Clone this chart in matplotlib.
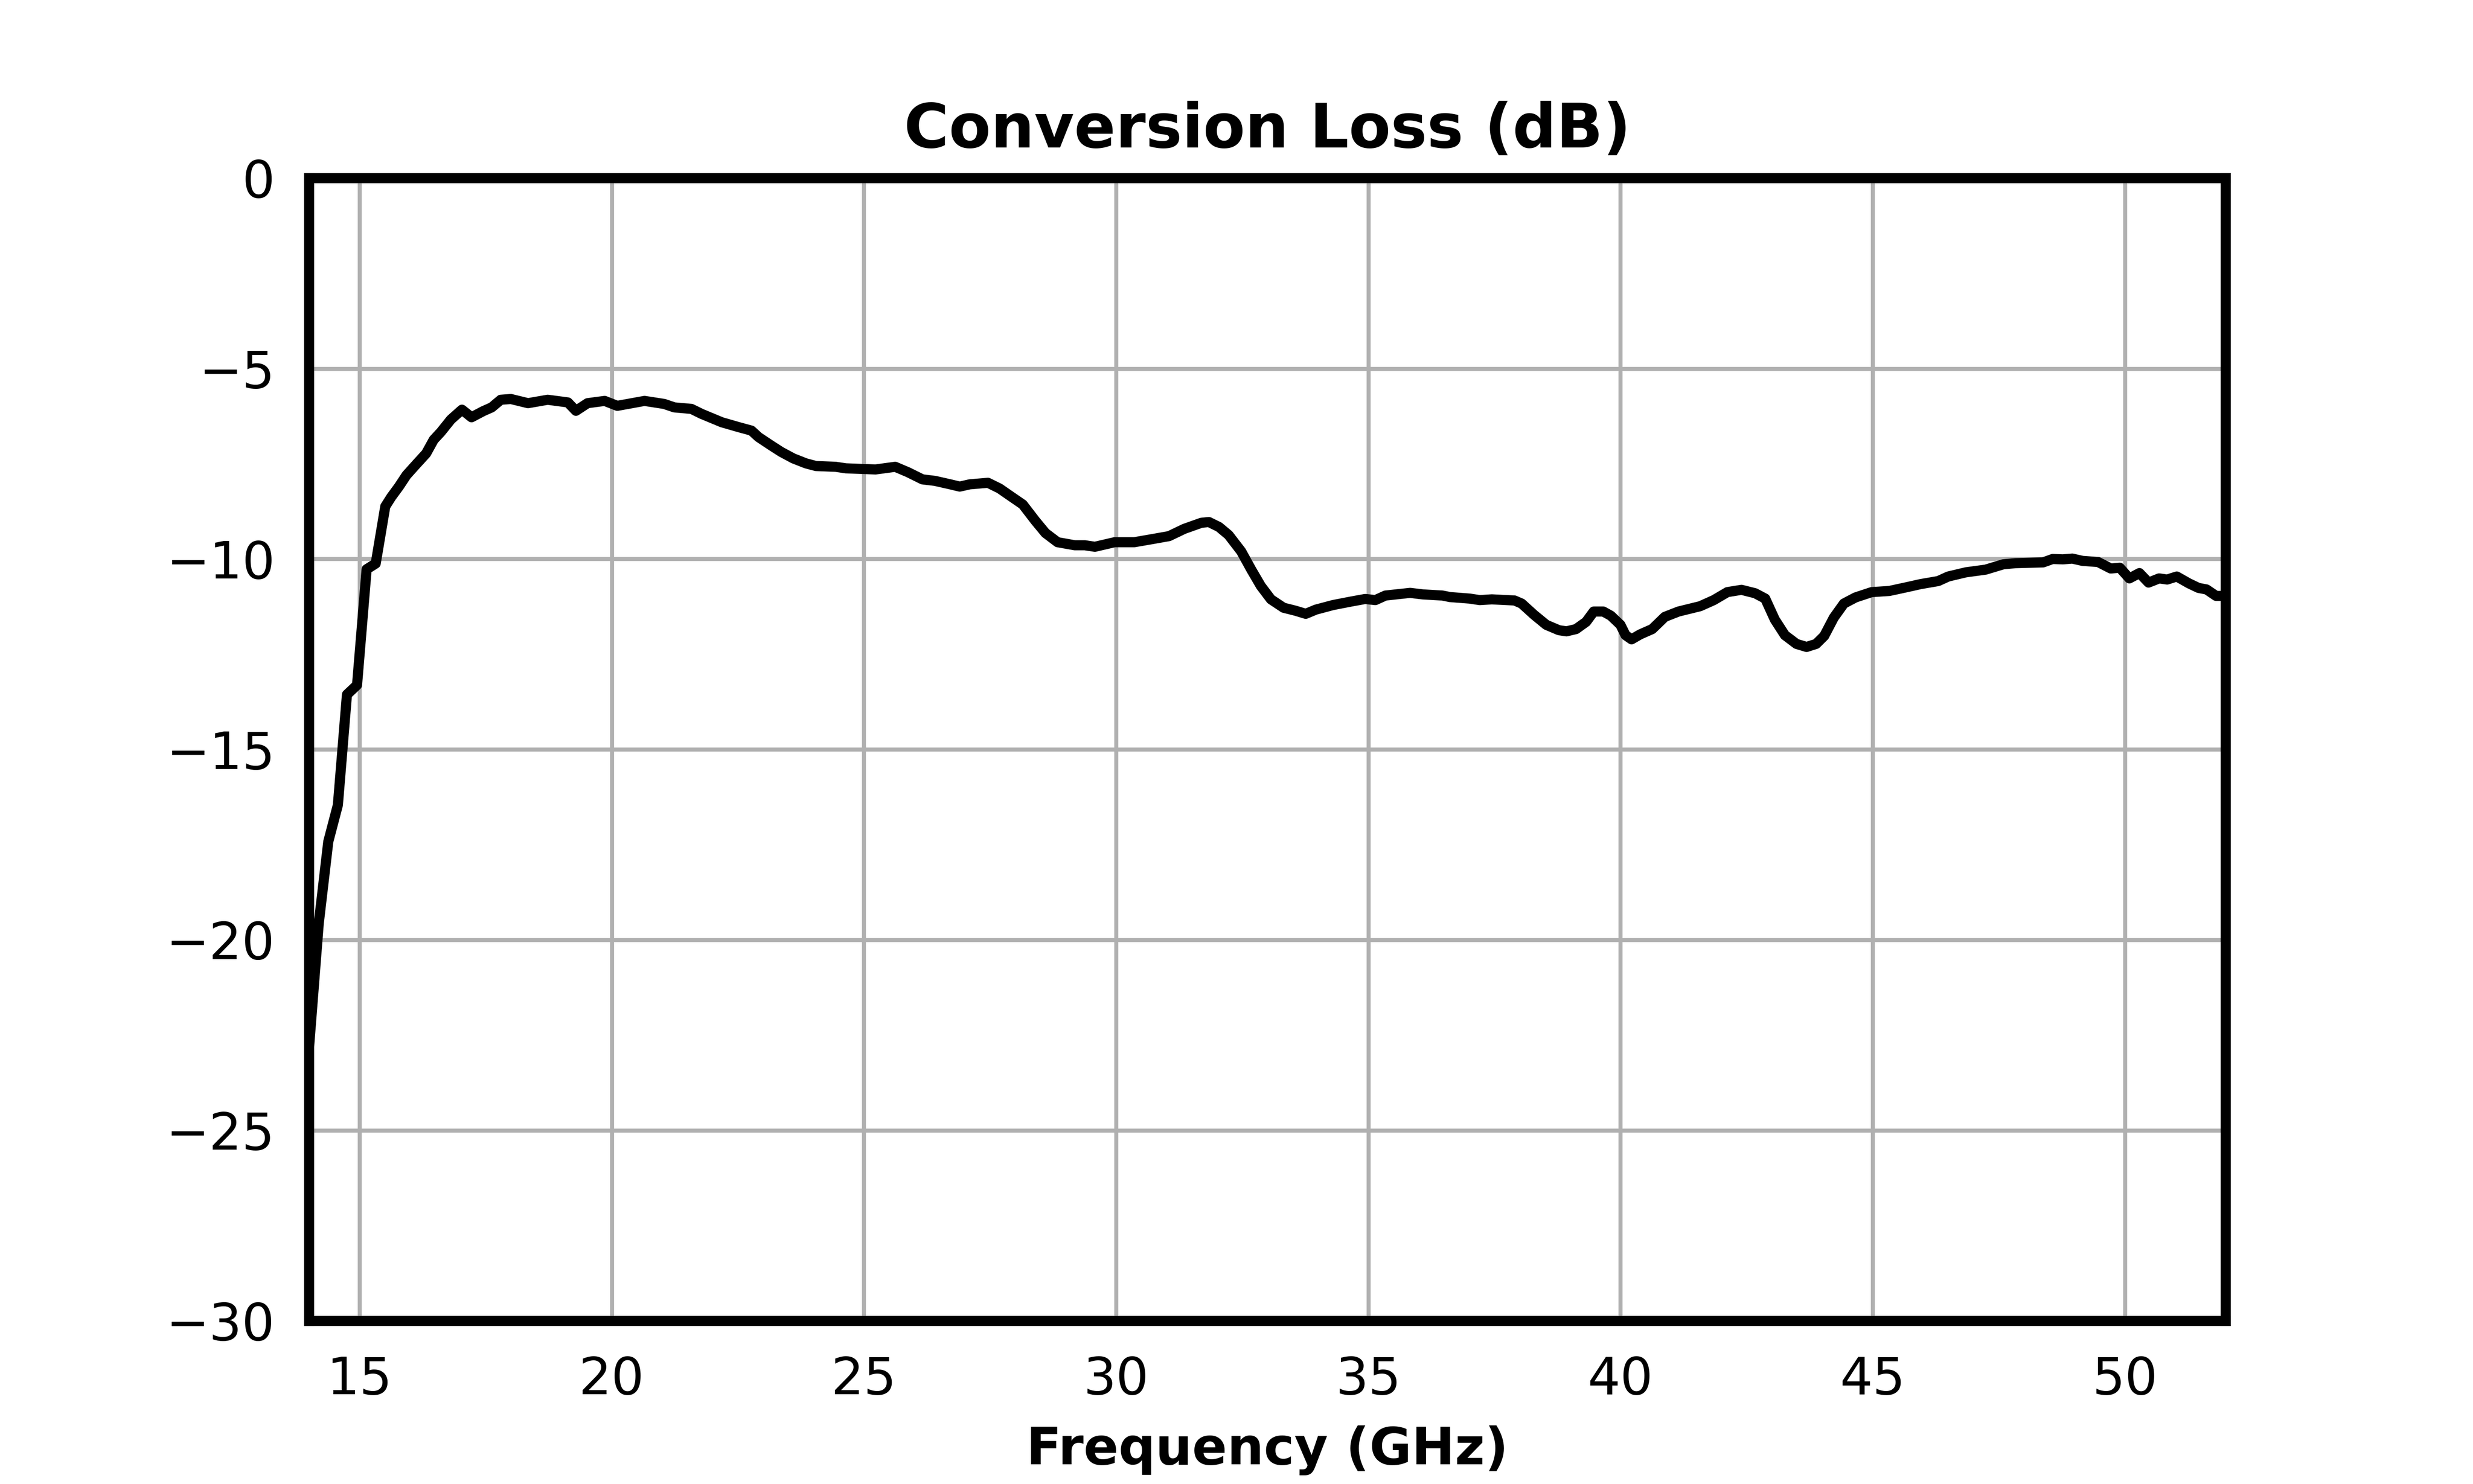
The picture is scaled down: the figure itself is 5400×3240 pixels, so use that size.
import numpy as np
import matplotlib
matplotlib.use("Agg")
import matplotlib.pyplot as plt

# ---------------------------------------------------------------------------------
# Data
# ---------------------------------------------------------------------------------
freq_ghz = [
    14.00, 14.19, 14.38, 14.57, 14.75, 14.95, 15.14, 15.32, 15.51,
    15.63, 15.78, 15.93, 16.12, 16.32, 16.47, 16.61, 16.81, 17.03,
    17.22, 17.45, 17.62, 17.80, 18.00, 18.34, 18.73, 19.13, 19.29, 19.52,
    19.86, 20.11, 20.65, 21.04, 21.24, 21.58, 21.78, 22.18, 22.52, 22.77,
    22.91, 23.16, 23.36, 23.60, 23.85, 24.05, 24.44, 24.64, 25.23, 25.62,
    25.87, 26.16, 26.41, 26.71, 26.90, 27.10, 27.46, 27.69, 27.93, 28.15,
    28.40, 28.60, 28.84, 29.18, 29.38, 29.58, 29.97, 30.36, 30.71, 31.05,
    31.35, 31.69, 31.84, 32.04, 32.23, 32.48, 32.68, 32.87, 33.07, 33.32,
    33.56, 33.76, 33.96, 34.30, 34.65, 34.94, 35.14, 35.34, 35.83, 36.08,
    36.47, 36.62, 37.01, 37.21, 37.45, 37.90, 38.04, 38.29, 38.53, 38.78,
    38.93, 39.12, 39.32, 39.47, 39.66, 39.81, 40.00, 40.10, 40.22, 40.39,
    40.63, 40.88, 41.15, 41.58, 41.85, 42.12, 42.40, 42.67, 42.87, 43.06,
    43.26, 43.49, 43.69, 43.88, 44.04, 44.23, 44.43, 44.66, 44.98, 45.33,
    45.68, 45.95, 46.30, 46.50, 46.85, 47.24, 47.59, 47.83, 48.38, 48.57,
    48.77, 48.96, 49.16, 49.47, 49.72, 49.90, 50.09, 50.29, 50.47, 50.68,
    50.84, 51.03, 51.27, 51.46, 51.62, 51.81, 52.00,
]
conv_loss_db = [
    -22.80, -19.58, -17.42, -16.46, -13.56, -13.31, -10.27, -10.12, -8.62,
    -8.37, -8.10, -7.80, -7.52, -7.23, -6.87, -6.67, -6.34, -6.08,
    -6.28, -6.12, -6.02, -5.82, -5.80, -5.91, -5.82, -5.89, -6.11, -5.91,
    -5.85, -5.98, -5.85, -5.93, -6.02, -6.06, -6.19, -6.41, -6.54, -6.63,
    -6.80, -7.02, -7.19, -7.36, -7.49, -7.56, -7.58, -7.62, -7.65, -7.58,
    -7.72, -7.91, -7.95, -8.04, -8.10, -8.04, -8.00, -8.15, -8.37, -8.57,
    -9.00, -9.32, -9.56, -9.64, -9.64, -9.68, -9.56, -9.56, -9.48, -9.40,
    -9.21, -9.05, -9.03, -9.16, -9.37, -9.80, -10.28, -10.71, -11.06, -11.28,
    -11.36, -11.44, -11.33, -11.21, -11.12, -11.05, -11.08, -10.96, -10.89, -10.93,
    -10.96, -11.00, -11.04, -11.08, -11.06, -11.09, -11.17, -11.47, -11.73, -11.87,
    -11.90, -11.84, -11.65, -11.38, -11.38, -11.49, -11.73, -12.00, -12.11, -11.98,
    -11.84, -11.52, -11.38, -11.24, -11.08, -10.87, -10.81, -10.90, -11.04, -11.59,
    -12.00, -12.23, -12.31, -12.23, -12.02, -11.54, -11.17, -11.01, -10.87, -10.84,
    -10.74, -10.66, -10.58, -10.46, -10.35, -10.28, -10.14, -10.11, -10.09, -10.00,
    -10.01, -9.99, -10.05, -10.08, -10.25, -10.23, -10.51, -10.37, -10.62, -10.51,
    -10.54, -10.46, -10.64, -10.76, -10.80, -10.97, -10.97,
]

x_ticks = [15, 20, 25, 30, 35, 40, 45, 50]
y_ticks = [0, -5, -10, -15, -20, -25, -30]

# ---------------------------------------------------------------------------------
# Plot
# ---------------------------------------------------------------------------------
plt.rcParams['font.family'] = ['DejaVu Sans']
plt.rcParams['font.size'] = 27

fig, ax = plt.subplots(figsize=(18, 10.8), dpi=300)

ax.plot(freq_ghz, conv_loss_db, color='black', lw=5.3, zorder=3)

ax.set_xlim(14, 52)
ax.set_ylim(-30, 0)
ax.set_xticks(x_ticks)
ax.set_yticks(y_ticks)
ax.grid(True, color='#b0b0b0', lw=2.1)
ax.tick_params(length=0, pad=18)

for sp in ax.spines.values():
    sp.set_linewidth(5.3)
    sp.set_zorder(4)

ax.set_title("Conversion Loss (dB)", fontweight='bold', fontsize=32, pad=16)
ax.set_xlabel("Frequency (GHz)", fontweight='bold', labelpad=11)

fig.savefig("out.png", dpi=300)
